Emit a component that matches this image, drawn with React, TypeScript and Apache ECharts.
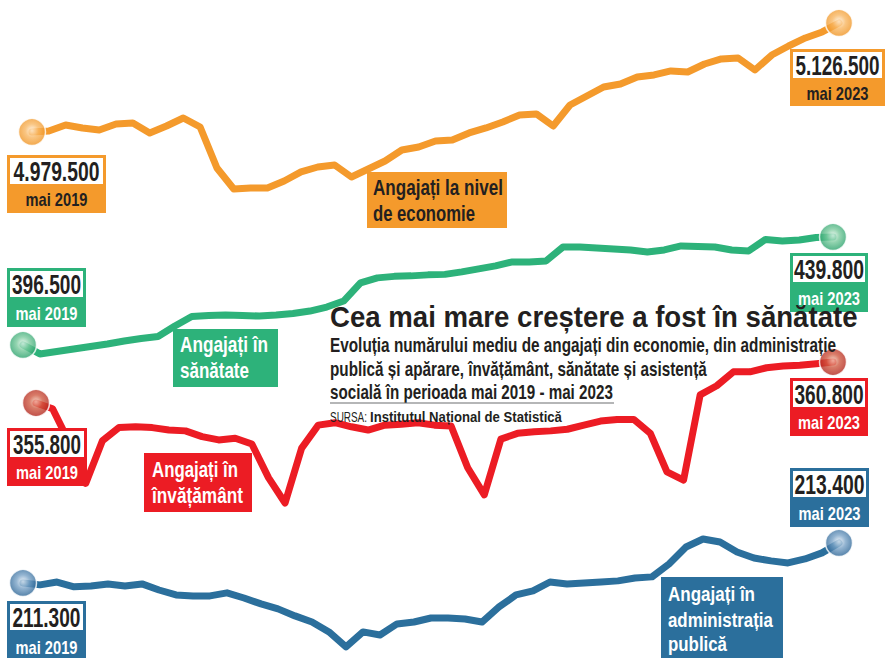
import React, { useEffect, useRef } from "react";
import * as echarts from "echarts";

// Months May 2019 – May 2023
const MONTHS = [
  "mai 2019", "iun 2019", "iul 2019", "aug 2019", "sep 2019", "oct 2019", "noi 2019", "dec 2019",
  "ian 2020", "feb 2020", "mar 2020", "apr 2020", "mai 2020", "iun 2020", "iul 2020", "aug 2020",
  "sep 2020", "oct 2020", "noi 2020", "dec 2020",
  "ian 2021", "feb 2021", "mar 2021", "apr 2021", "mai 2021", "iun 2021", "iul 2021", "aug 2021",
  "sep 2021", "oct 2021", "noi 2021", "dec 2021",
  "ian 2022", "feb 2022", "mar 2022", "apr 2022", "mai 2022", "iun 2022", "iul 2022", "aug 2022",
  "sep 2022", "oct 2022", "noi 2022", "dec 2022",
  "ian 2023", "feb 2023", "mar 2023", "apr 2023", "mai 2023",
];

// Employees, thousands
const ECONOMIE = [
  4979.5, 4980.8, 4988.9, 4984.9, 4982.2, 4990.3, 4991.6, 4978.2, 4987.6, 4998.4,
  4986.2, 4930.9, 4902.6, 4904.0, 4904.0, 4913.4, 4925.6, 4932.3, 4935.0, 4918.8,
  4929.6, 4940.4, 4955.2, 4959.3, 4967.4, 4968.7, 4978.2, 4984.9, 4993.0, 5002.4,
  5003.8, 4987.6, 5015.9, 5028.0, 5040.2, 5044.2, 5053.7, 5056.4, 5061.8, 5060.4,
  5071.2, 5078.0, 5079.3, 5063.1, 5083.3, 5095.5, 5106.3, 5114.4, 5126.5,
];
const SANATATE = [
  396.5, 392.9, 393.9, 394.9, 395.9, 396.9, 398.1, 399.1, 399.9, 404.1,
  407.9, 408.3, 408.5, 408.3, 408.1, 408.5, 409.1, 410.1, 411.7, 414.1,
  421.4, 423.4, 424.0, 424.2, 424.6, 424.8, 425.8, 427.0, 428.2, 429.8,
  429.8, 430.2, 435.8, 435.8, 435.4, 435.0, 434.6, 433.8, 434.6, 436.2,
  436.0, 435.8, 434.6, 434.2, 438.8, 438.2, 438.6, 439.6, 439.8,
];
const INVATAMANT = [
  355.8, 355.1, 351.0, 346.0, 351.2, 352.8, 352.9, 352.8, 352.5, 352.4,
  351.7, 351.3, 351.5, 350.8, 346.7, 343.6, 350.3, 353.1, 353.4, 352.9,
  352.5, 353.1, 353.2, 353.4, 353.1, 353.0, 347.9, 344.6, 351.4, 352.1,
  352.3, 352.4, 352.6, 353.1, 353.6, 353.8, 353.8, 352.1, 347.4, 346.4,
  356.8, 357.9, 359.6, 359.6, 360.1, 360.3, 360.4, 360.6, 360.8,
];
const ADMINISTRATIE = [
  211.3, 211.2, 211.35, 211.1, 211.14, 211.25, 211.14, 211.25, 210.93, 210.67,
  210.62, 210.62, 210.78, 210.51, 210.2, 209.94, 209.57, 209.25, 208.73, 207.94,
  208.73, 208.57, 209.15, 209.25, 209.46, 209.46, 209.41, 209.25, 210.04, 210.67,
  210.88, 211.35, 211.25, 211.3, 211.35, 211.41, 211.56, 211.62, 212.3, 213.19,
  213.61, 213.45, 212.93, 212.61, 212.46, 212.35, 212.56, 212.88, 213.4,
];

const TITLE = "Cea mai mare creștere a fost în sănătate";
const SUBTITLE = [
  "Evoluția numărului mediu de angajați din economie, din administrație",
  "publică și apărare, învățământ, sănătate și asistență",
  "socială în perioada mai 2019 - mai 2023",
];
const SOURCE_LABEL = "SURSA:";
const SOURCE = "Institutul Național de Statistică";

const W = 885;
const H = 658;
const COND = "'Liberation Sans Narrow', 'Liberation Sans', Arial, sans-serif";
const SANS = "'Liberation Sans', Arial, sans-serif";
const INK = "#231f20";

const ORANGE = "#f49a2c";
const GREEN = "#2db27a";
const RED = "#ec1c24";
const BLUE = "#2b6f9c";

function fmt(v: number): string {
  const n = Math.round(v * 1000);
  return String(n).replace(/\B(?=(\d{3})+(?!\d))/g, ".");
}

let measureCtx: CanvasRenderingContext2D | null = null;
function scaleFor(text: string, size: number, weight: string, family: string, width?: number) {
  if (!width) return 1;
  if (!measureCtx) measureCtx = document.createElement("canvas").getContext("2d");
  if (!measureCtx) return 1;
  measureCtx.font = `${weight} ${size}px ${family}`;
  const w = measureCtx.measureText(text).width;
  return w > 0 ? width / w : 1;
}

function txt(
  x: number, y: number, text: string,
  o: { size: number; weight?: string; color?: string; align?: string; width?: number; family?: string }
) {
  const weight = o.weight || "bold";
  const family = o.family || COND;
  const align = o.align || "center";
  return {
    type: "text",
    x, y,
    scaleX: scaleFor(text, o.size, weight, family, o.width),
    z: 20,
    silent: true,
    style: {
      text,
      fill: o.color || INK,
      fontSize: o.size,
      fontWeight: weight,
      fontFamily: family,
      align, verticalAlign: "middle",
      textAlign: align, textVerticalAlign: "middle",
    },
  };
}

function rect(x1: number, y1: number, x2: number, y2: number, fill: string) {
  return {
    type: "rect", z: 15, silent: true,
    shape: { x: x1, y: y1, width: x2 - x1, height: y2 - y1 },
    style: { fill },
  };
}

function valueBox(
  x1: number, y1: number, x2: number, y2: number, color: string,
  num: string, numW: number, date: string, dateColor: string
) {
  const whiteH = 26;
  const cx = (x1 + x2) / 2;
  return [
    rect(x1, y1, x2, y2, color),
    rect(x1 + 3, y1 + 3, x2 - 3, y1 + 3 + whiteH, "#ffffff"),
    txt(cx, y1 + 3 + whiteH / 2 + 1, num, { size: 27, width: numW }),
    txt(cx, (y1 + 3 + whiteH + y2) / 2 + 1, date, { size: 18, width: 62, color: dateColor }),
  ];
}

function sphere(light: string, mid: string, edge: string) {
  return new echarts.graphic.RadialGradient(0.5, 0.45, 0.55, [
    { offset: 0, color: light },
    { offset: 0.45, color: mid },
    { offset: 1, color: edge },
  ]);
}

export default function App() {
  const ref = useRef<HTMLDivElement>(null);

  useEffect(() => {
    if (!ref.current) return;
    const chart = echarts.init(ref.current, null, { renderer: "svg" });
    const last = MONTHS.length - 1;

    const specs = [
      { data: ECONOMIE, color: ORANGE, left: 32, right: W - 839, min: 4270.1, max: 5157.5,
        ball: sphere("#fff1de", "#f8b763", "#ef921f") },
      { data: SANATATE, color: GREEN, left: 23, right: W - 833, min: 271.0, max: 534.8,
        ball: sphere("#e6f5ec", "#78c99c", "#27a06a") },
      { data: INVATAMANT, color: RED, left: 36, right: W - 833, min: 324.7, max: 404.95,
        ball: sphere("#f1cbb7", "#cf5a42", "#b0241c") },
      { data: ADMINISTRATIE, color: BLUE, left: 23, right: W - 839, min: 207.36, max: 241.91,
        ball: sphere("#e9f0f8", "#79a2c6", "#2a6394") },
    ];

    const grid = specs.map((s) => ({ left: s.left, right: s.right, top: 0, bottom: 0, containLabel: false }));
    const xAxis = specs.map((_, i) => ({
      type: "category", gridIndex: i, data: MONTHS, boundaryGap: false, show: false,
    }));
    const yAxis = specs.map((s, i) => ({
      type: "value", gridIndex: i, min: s.min, max: s.max, show: false, splitLine: { show: false },
    }));
    const lineSeries = specs.map((s, i) => ({
      type: "line", xAxisIndex: i, yAxisIndex: i, data: s.data, symbol: "none", silent: true, z: 2,
      lineStyle: { color: s.color, width: 7, join: "round", cap: "round" },
    }));
    const ballSeries = specs.map((s, i) => ({
      type: "scatter", xAxisIndex: i, yAxisIndex: i, silent: true, z: 4,
      data: [[0, s.data[0]], [last, s.data[last]]],
      symbolSize: 27,
      itemStyle: { color: s.ball, borderColor: "#ffffff", borderWidth: 1.5 },
    }));

    const d0 = MONTHS[0];
    const d1 = MONTHS[last];

    const elements: any[] = [
      // economy
      ...valueBox(7, 155, 106, 213, ORANGE, fmt(ECONOMIE[0]), 86, d0, INK),
      ...valueBox(790, 49, 885, 106, ORANGE, fmt(ECONOMIE[last]), 84, d1, INK),
      rect(367, 172, 507, 228, ORANGE),
      txt(373, 187, "Angajați la nivel", { size: 22, align: "left", width: 130 }),
      txt(373, 213, "de economie", { size: 22, align: "left", width: 102 }),
      // health
      ...valueBox(7, 268, 86, 327, GREEN, fmt(SANATATE[0]), 69, d0, "#ffffff"),
      ...valueBox(790, 253, 868, 312, GREEN, fmt(SANATATE[last]), 70, d1, "#ffffff"),
      rect(173, 329, 278, 387, GREEN),
      txt(180, 344, "Angajați în", { size: 22, align: "left", width: 88, color: "#ffffff" }),
      txt(180, 370, "sănătate", { size: 22, align: "left", width: 69, color: "#ffffff" }),
      // education
      ...valueBox(7, 428, 87, 486, RED, fmt(INVATAMANT[0]), 68, d0, "#ffffff"),
      ...valueBox(790, 378, 868, 436, RED, fmt(INVATAMANT[last]), 69, d1, "#ffffff"),
      rect(144, 453, 252, 512, RED),
      txt(152, 469, "Angajați în", { size: 22, align: "left", width: 86, color: "#ffffff" }),
      txt(152, 495, "învățământ", { size: 22, align: "left", width: 91, color: "#ffffff" }),
      // administration
      ...valueBox(7, 601, 86, 662, BLUE, fmt(ADMINISTRATIE[0]), 68, d0, "#ffffff"),
      ...valueBox(790, 468, 869, 527, BLUE, fmt(ADMINISTRATIE[last]), 70, d1, "#ffffff"),
      rect(661, 577, 783, 662, BLUE),
      txt(668, 594, "Angajați în", { size: 21, align: "left", width: 87, color: "#ffffff" }),
      txt(668, 620, "administrația", { size: 21, align: "left", width: 105, color: "#ffffff" }),
      txt(668, 644, "publică", { size: 21, align: "left", width: 59, color: "#ffffff" }),
      // title block
      txt(330, 317, TITLE, { size: 30, align: "left", width: 528, family: SANS }),
      txt(330, 345, SUBTITLE[0], { size: 20, align: "left", width: 506 }),
      txt(330, 369, SUBTITLE[1], { size: 20, align: "left", width: 377 }),
      txt(330, 392, SUBTITLE[2], { size: 20, align: "left", width: 283 }),
      {
        type: "line", z: 20, silent: true,
        shape: { x1: 330, y1: 403, x2: 614, y2: 403 },
        style: { stroke: "#6d6e71", lineWidth: 1.2 },
      },
      txt(330, 417, SOURCE_LABEL, { size: 15, align: "left", width: 37, weight: "normal" }),
      txt(370, 417, SOURCE, { size: 15, align: "left", width: 192 }),
    ];

    chart.setOption({
      animation: false,
      backgroundColor: "#ffffff",
      grid,
      xAxis,
      yAxis,
      series: [...lineSeries, ...ballSeries],
      graphic: { elements },
    });

    return () => chart.dispose();
  }, []);

  return (
    <div
      ref={ref}
      style={{ position: "absolute", left: 0, top: 0, width: W, height: H, background: "#fff" }}
    />
  );
}
